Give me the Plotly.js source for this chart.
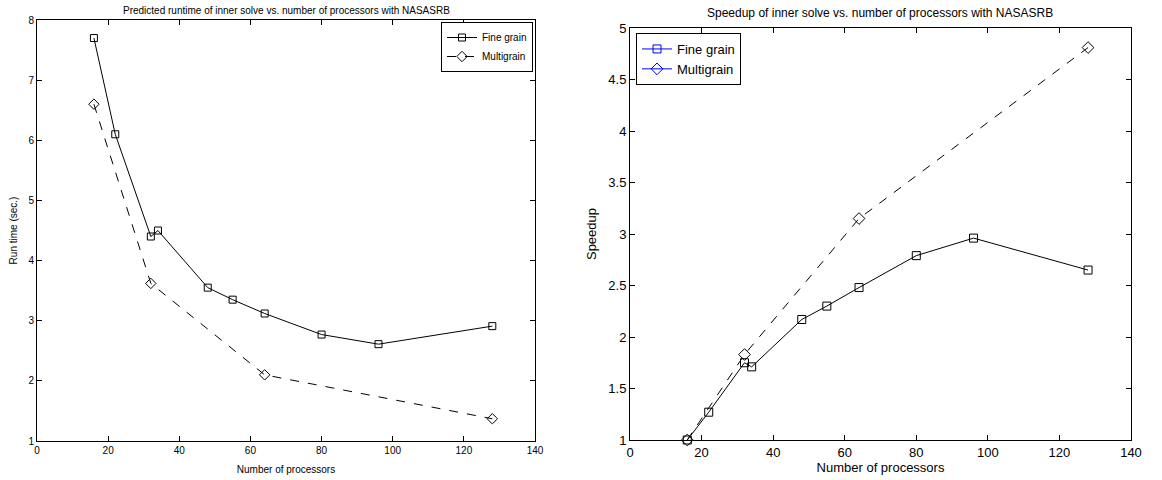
<!DOCTYPE html>
<html><head><meta charset="utf-8">
<script src="https://cdn.plot.ly/plotly-3.0.1.min.js"></script>
<style>html,body{margin:0;padding:0;background:#fff}#plot{width:1162px;height:480px}</style>
</head><body><div id="plot"></div>
<script>
const procsFine = [16, 22, 32, 34, 48, 55, 64, 80, 96, 128];
const runtimeFine = [7.7, 6.1, 4.4, 4.5, 3.55, 3.35, 3.12, 2.77, 2.61, 2.91];
const procsMulti = [16, 32, 64, 128];
const runtimeMulti = [6.6, 3.62, 2.1, 1.37];
const speedupFine = [1.0, 1.27, 1.75, 1.71, 2.17, 2.30, 2.48, 2.79, 2.96, 2.65];
const speedupMulti = [1.0, 1.83, 3.15, 4.81];
const seriesNames = ['Fine grain', 'Multigrain'];
const titles = ['Predicted runtime of inner solve vs. number of processors with NASASRB',
                'Speedup of inner solve vs. number of processors with NASASRB'];

const FONT = 'Liberation Sans, Arial, sans-serif';
function tr(x, y, name, sym, dash, xa, ya, leg, color, show, size) {
  return {x, y, name, type: 'scatter', mode: 'lines+markers', xaxis: xa, yaxis: ya,
    legend: leg, showlegend: show, cliponaxis: false,
    line: {color: color, width: 1, dash: dash},
    marker: {symbol: sym, size: size, color: color, line: {color: color, width: 1}}};
}
const data = [
  tr(procsFine, runtimeFine, seriesNames[0], 'square-open', 'solid', 'x', 'y', 'legend', '#000', true, 7),
  tr(procsMulti, runtimeMulti, seriesNames[1], 'diamond-open', 'dash', 'x', 'y', 'legend', '#000', true, 8),
  tr(procsFine, speedupFine, seriesNames[0], 'square-open', 'solid', 'x2', 'y2', 'legend2', '#000', false, 8),
  tr(procsMulti, speedupMulti, seriesNames[1], 'diamond-open', 'dash', 'x2', 'y2', 'legend2', '#000', false, 9),
  tr([null], [null], seriesNames[0], 'square-open', 'solid', 'x2', 'y2', 'legend2', '#0000ff', true, 8),
  tr([null], [null], seriesNames[1], 'diamond-open', 'solid', 'x2', 'y2', 'legend2', '#0000ff', true, 9)
];
function ax(extra) {
  return Object.assign({showgrid: false, zeroline: false, showline: true, linecolor: '#000', linewidth: 1,
    mirror: 'ticks', ticks: 'inside', ticklen: 5, tickcolor: '#000', tickwidth: 1}, extra);
}
const layout = {
  width: 1162, height: 480, margin: {l: 0, r: 0, t: 0, b: 0},
  paper_bgcolor: '#fff', plot_bgcolor: '#fff',
  font: {family: FONT, color: '#000'},
  xaxis: ax({domain: [37/1162, 535/1162], range: [0, 140], dtick: 20, anchor: 'y',
    tickfont: {size: 10}, title: {text: 'Number of processors', font: {size: 10}, standoff: 10}}),
  yaxis: ax({domain: [1 - 441/480, 1 - 20/480], range: [1, 8], dtick: 1, anchor: 'x',
    tickfont: {size: 10}, title: {text: 'Run time (sec.)', font: {size: 10}, standoff: 8}}),
  xaxis2: ax({domain: [630/1162, 1131/1162], range: [0, 140], dtick: 20, anchor: 'y2',
    tickfont: {size: 13}, title: {text: 'Number of processors', font: {size: 13}, standoff: 4}}),
  yaxis2: ax({domain: [1 - 440/480, 1 - 28/480], range: [1, 5], dtick: 0.5, anchor: 'x2',
    tickfont: {size: 13}, title: {text: 'Speedup', font: {size: 13}, standoff: 8}}),
  legend: {x: 533/1162, y: 1 - 22/480, xanchor: 'right', yanchor: 'top', xref: 'paper', yref: 'paper',
    bgcolor: '#fff', bordercolor: '#000', borderwidth: 1, font: {size: 10},
    tracegroupgap: 0, itemwidth: 30},
  legend2: {x: 636/1162, y: 1 - 33/480, xanchor: 'left', yanchor: 'top', xref: 'paper', yref: 'paper',
    bgcolor: '#fff', bordercolor: '#000', borderwidth: 1, font: {size: 13},
    tracegroupgap: 0, itemwidth: 30},
  annotations: [
    {text: titles[0], x: 286/1162, y: 1 - 10/480, xref: 'paper', yref: 'paper', showarrow: false,
      xanchor: 'center', yanchor: 'middle', font: {size: 10}},
    {text: titles[1], x: 880/1162, y: 1 - 13/480, xref: 'paper', yref: 'paper', showarrow: false,
      xanchor: 'center', yanchor: 'middle', font: {size: 12}}
  ]
};
Plotly.newPlot('plot', data, layout, {displayModeBar: false, staticPlot: true});
</script></body></html>
